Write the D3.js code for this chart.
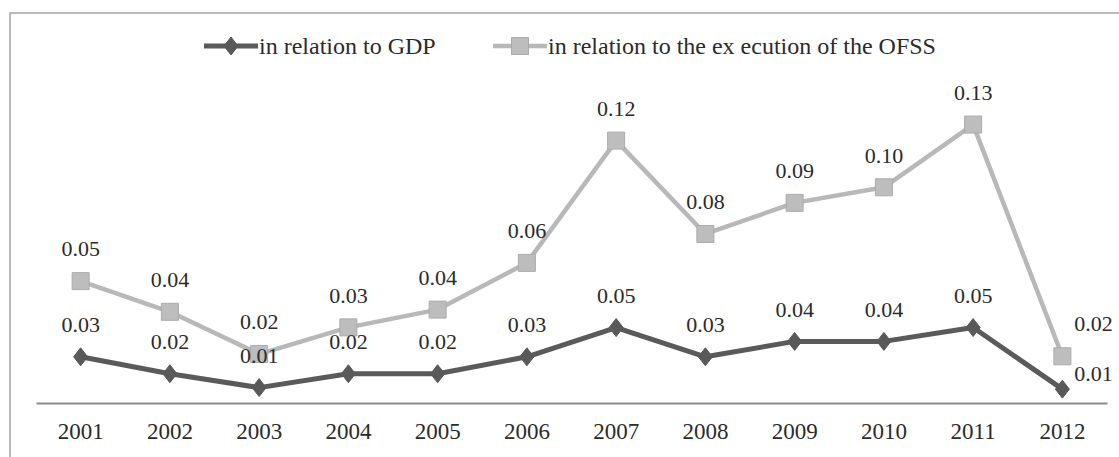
<!DOCTYPE html>
<html>
<head>
<meta charset="utf-8">
<script src="https://cdn.jsdelivr.net/npm/d3@7"></script>
</head>
<body style="margin:0; background:#fff">
<svg id="chart" width="1119" height="457"></svg>
<script>
// data
const years = ["2001", "2002", "2003", "2004", "2005", "2006", "2007", "2008", "2009", "2010", "2011", "2012"];
const gdpValues = [0.030, 0.019, 0.010, 0.019, 0.019, 0.030, 0.049, 0.030, 0.040, 0.040, 0.049, 0.009];
const ofssValues = [0.0548, 0.041, 0.022, 0.034, 0.042, 0.063, 0.118, 0.076, 0.090, 0.097, 0.1252, 0.021];
const seriesNames = ["in relation to GDP", "in relation to the ex ecution of the OFSS"];

const width = 1119, height = 457;
const margin = { top: 95, bottom: 54, left: 36, right: 12 };
const fmt = d3.format(".2f");
const FONT = "'Liberation Serif', 'Times New Roman', Tinos, serif";
const textColor = "#2b2b2b";

const svg = d3.select("#chart");

// frame
svg.append("path")
  .attr("d", `M10,${height} V13 H${width}`)
  .attr("fill", "none")
  .attr("stroke", "#a3a3a3")
  .attr("stroke-width", 1.5);

const x = d3.scaleBand()
  .domain(years)
  .range([margin.left, width - margin.right]);

// the OFSS series sits on its own (hidden) secondary axis
const yGdp = d3.scaleLinear()
  .domain([0, 0.2])
  .range([height - margin.bottom, margin.top]);

const yOfss = d3.scaleLinear()
  .domain([0, 0.1385])
  .range([height - margin.bottom, margin.top]);

const cx = (d, i) => x(years[i]) + x.bandwidth() / 2;

// x axis
const xAxis = d3.axisBottom(x).tickSize(0).tickPadding(20);
const gx = svg.append("g")
  .attr("transform", `translate(0, ${height - margin.bottom})`)
  .call(xAxis);
gx.select(".domain").attr("stroke", "#8a8a8a").attr("stroke-width", 2);
gx.selectAll("text")
  .style("font-family", FONT)
  .style("font-size", "23px")
  .attr("fill", textColor);

const series = [
  { name: seriesNames[0], values: gdpValues, y: yGdp, color: "#5a5a5a", marker: "diamond" },
  { name: seriesNames[1], values: ofssValues, y: yOfss, color: "#b8b8b8", marker: "square" }
];

const markerPath = (type) => type === "diamond"
  ? "M0,-9 L7,0 L0,9 L-7,0 Z"
  : "M-8.5,-8.5 H8.5 V8.5 H-8.5 Z";

// draw the light series first so the dark one is on top
[series[1], series[0]].forEach(s => {
  const line = d3.line()
    .x(cx)
    .y(d => s.y(d));

  svg.append("path")
    .datum(s.values)
    .attr("d", line)
    .attr("fill", "none")
    .attr("stroke", s.color)
    .attr("stroke-width", s.marker === "diamond" ? 5 : 4.5)
    .attr("stroke-linejoin", "round");

  svg.append("g")
    .selectAll("path")
    .data(s.values)
    .enter()
    .append("path")
    .attr("transform", (d, i) => `translate(${cx(d, i)}, ${s.y(d)})`)
    .attr("d", markerPath(s.marker))
    .attr("fill", s.marker === "diamond" ? "#595959" : "#bdbdbd")
    .attr("stroke", s.marker === "diamond" ? "#595959" : "#ababab")
    .attr("stroke-width", 1);
});

// data labels
series.forEach(s => {
  const last = s.values.length - 1;
  svg.append("g")
    .selectAll("text")
    .data(s.values)
    .enter()
    .append("text")
    .attr("x", (d, i) => cx(d, i) + (i === last ? 31 : 0))
    .attr("y", (d, i) => s.y(d) - (i === last ? (s.marker === "diamond" ? 17 : 34) : 33))
    .attr("dy", "0.38em")
    .attr("text-anchor", "middle")
    .style("font-family", FONT)
    .style("font-size", "22px")
    .attr("fill", textColor)
    .text(d => fmt(d));
});

// legend
const legendItems = [
  { s: series[0], x0: 204 },
  { s: series[1], x0: 493 }
];
legendItems.forEach(({ s, x0 }) => {
  const g = svg.append("g").attr("transform", `translate(${x0}, 46)`);
  g.append("line")
    .attr("x1", 0).attr("x2", 54)
    .attr("stroke", s.color)
    .attr("stroke-width", s.marker === "diamond" ? 5 : 4.5);
  g.append("path")
    .attr("transform", "translate(27, 0)")
    .attr("d", markerPath(s.marker))
    .attr("fill", s.marker === "diamond" ? "#595959" : "#bdbdbd")
    .attr("stroke", s.marker === "diamond" ? "#595959" : "#ababab");
  g.append("text")
    .attr("x", 55)
    .attr("dy", "0.35em")
    .style("font-family", FONT)
    .style("font-size", "24px")
    .attr("fill", textColor)
    .text(s.name);
});
</script>
</body>
</html>
